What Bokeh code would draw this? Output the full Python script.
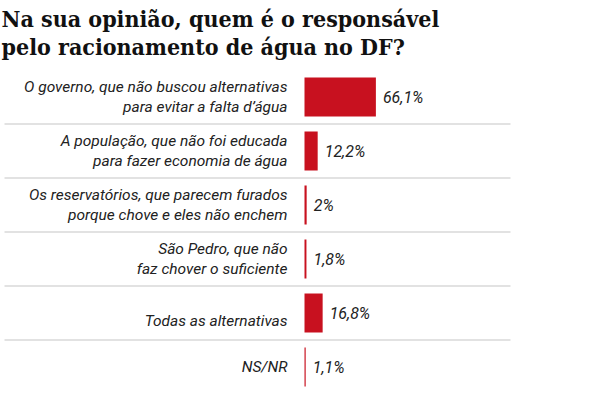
from bokeh.plotting import figure
from bokeh.models import Range1d, ColumnDataSource
from bokeh.core.properties import value
from bokeh.embed import file_html
from bokeh.resources import INLINE

# ---- data ----
title_lines = ["Na sua opinião, quem é o responsável",
               "pelo racionamento de água no DF?"]
cat_line1 = ["O governo, que não buscou alternativas",
             "A população, que não foi educada",
             "Os reservatórios, que parecem furados",
             "São Pedro, que não",
             "",
             ""]
cat_line2 = ["para evitar a falta d’água",
             "para fazer economia de água",
             "porque chove e eles não enchem",
             "faz chover o suficiente",
             "Todas as alternativas",
             "NS/NR"]
values = [66.1, 12.2, 2, 1.8, 16.8, 1.1]
value_labels = ["66,1%", "12,2%", "2%", "1,8%", "16,8%", "1,1%"]

# ---- geometry (pixels -> data) ----
W, H = 584, 401
XS = 1.08          # px per percent
X0 = 304           # px position of 0%
U = 54.0           # px per row
first_row = 96.5 / U
LABEL_FONT = "Roboto"

x_start = -X0 / XS
x_end = (W - X0) / XS

p = figure(width=W, height=H, output_backend="svg", toolbar_location=None,
           x_range=Range1d(x_start, x_end), y_range=Range1d(H / U, 0),
           min_border=0, min_border_left=0, min_border_right=0,
           min_border_top=0, min_border_bottom=0)
p.axis.visible = False
p.grid.visible = False
p.outline_line_color = None
p.background_fill_color = "white"
p.border_fill_color = "white"

n = len(values)
ys = [first_row + i for i in range(n)]

# separators
sep_y = [first_row + i + 0.5 for i in range(n - 1)]
p.segment(x0=[(4 - X0) / XS] * len(sep_y), x1=[(510 - X0) / XS] * len(sep_y),
          y0=sep_y, y1=sep_y, line_color="#d9d9d9", line_width=1.5)

# bars
src = ColumnDataSource(dict(y=ys, v=values, lab=value_labels,
                            lx=[v + 7 / XS for v in values]))
p.hbar(y="y", left=0, right="v", height=39 / U, source=src,
       fill_color="#c8111f", line_color=None)

# value labels
p.text(x="lx", y="y", text="lab", source=src, text_font=value(LABEL_FONT),
       text_font_style="italic", text_font_size="16px", text_color="#222222",
       text_baseline="middle", text_align="left")

# category labels
lab_x = (287 - X0) / XS
off = 10 / U
l1y, l2y, l1t, l2t = [], [], [], []
for i in range(n):
    if cat_line1[i]:
        l1y.append(ys[i] - off); l1t.append(cat_line1[i])
        l2y.append(ys[i] + off); l2t.append(cat_line2[i])
    else:
        shift = 8 / U if cat_line2[i].startswith("Todas") else 0
        l2y.append(ys[i] + shift); l2t.append(cat_line2[i])
for yy, tt in ((l1y, l1t), (l2y, l2t)):
    p.text(x=[lab_x] * len(yy), y=yy, text=tt, text_font=value(LABEL_FONT),
           text_font_style="italic", text_font_size="15.5px", text_color="#222222",
           text_baseline="middle", text_align="right")

# title
p.text(x=[x_start + 1 / XS] * 2, y=[18 / U, 46 / U], text=title_lines,
       text_font=value("DejaVu Serif Condensed"), text_font_style="bold",
       text_font_size="23px", text_color="#111111",
       text_baseline="alphabetic", text_align="left")

open("out.html", "w").write(file_html(p, INLINE))
